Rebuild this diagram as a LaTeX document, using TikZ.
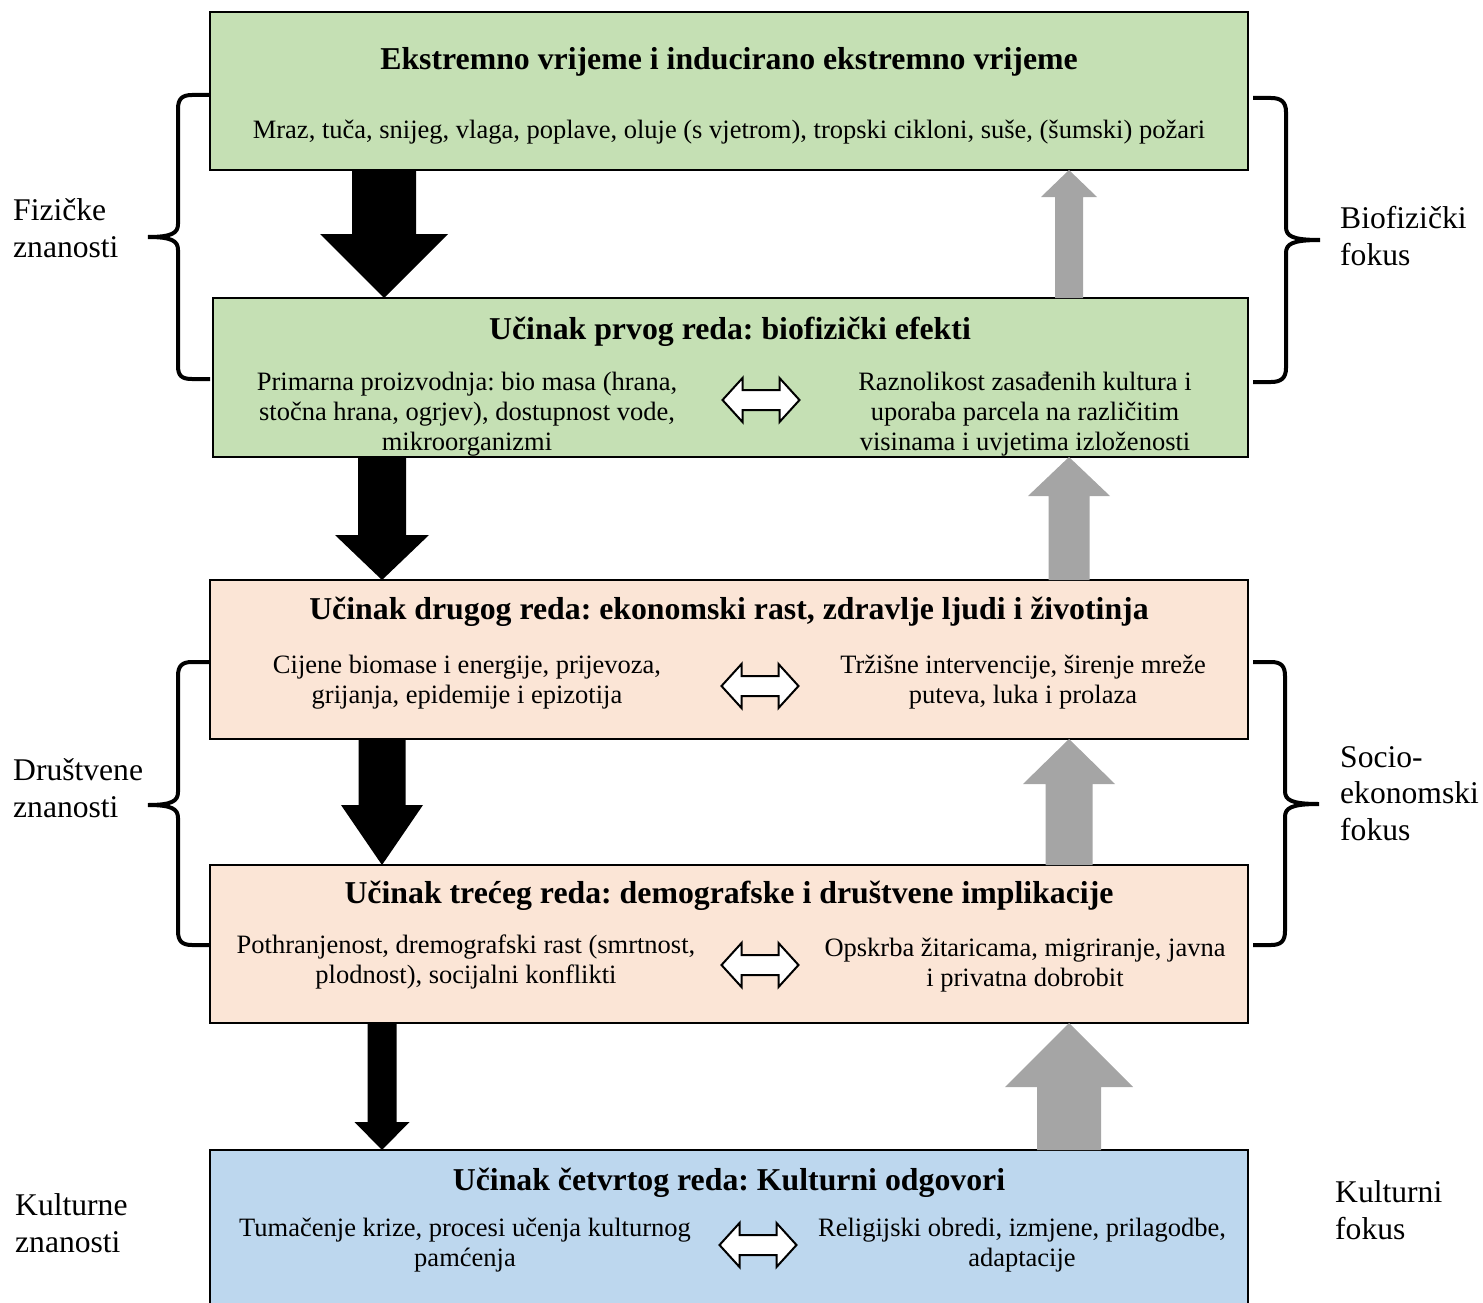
\documentclass[tikz,border=0pt]{standalone}
\usepackage{fontspec}
\setmainfont{Liberation Serif}
\usetikzlibrary{calc}
\frenchspacing
\definecolor{boxgreen}{HTML}{C5E0B4}
\definecolor{boxpeach}{HTML}{FBE5D6}
\definecolor{boxblue}{HTML}{BDD7EE}
\definecolor{arrgray}{HTML}{A5A5A5}
\tikzset{
  box/.style={draw=black, line width=2pt, rectangle, anchor=north west, inner sep=0pt, outer sep=0pt, minimum width=1038pt, minimum height=158pt},
  ttl/.style={font=\fontsize{31.8}{36}\selectfont\bfseries\frenchspacing, inner sep=0pt, anchor=base},
  body/.style={font=\fontsize{26.5}{30}\selectfont\frenchspacing, align=center, inner sep=0pt, anchor=base},
  lbl/.style={font=\fontsize{31.6}{36.5}\selectfont, align=left, inner sep=0pt, anchor=base west},
  dbl/.style={draw=black, fill=white, line width=2pt, line join=miter},
  brace/.style={draw=black, line width=4pt},
}
% down block arrow: #1 colour, #2 x, #3 from, #4 to, #5 shaft half width, #6 head half width, #7 head length
\newcommand\blkdown[7]{%
  \fill[#1] let \p1=(#3), \p2=(#4) in
    ({(#2-#5)*1pt},\y1) -- ({(#2+#5)*1pt},\y1) -- ({(#2+#5)*1pt},{\y2+#7pt}) --
    ({(#2+#6)*1pt},{\y2+#7pt}) -- ({#2*1pt},\y2) -- ({(#2-#6)*1pt},{\y2+#7pt}) --
    ({(#2-#5)*1pt},{\y2+#7pt}) -- cycle;}
\newcommand\blkup[7]{%
  \fill[#1] let \p1=(#3), \p2=(#4) in
    ({(#2-#5)*1pt},\y1) -- ({(#2+#5)*1pt},\y1) -- ({(#2+#5)*1pt},{\y2-#7pt}) --
    ({(#2+#6)*1pt},{\y2-#7pt}) -- ({#2*1pt},\y2) -- ({(#2-#6)*1pt},{\y2-#7pt}) --
    ({(#2-#5)*1pt},{\y2-#7pt}) -- cycle;}
% double-headed hollow arrow centred at (#2,#3), named #1
\newcommand\dblarr[3]{%
  \coordinate (#1) at (#2,#3);
  \draw[dbl, shift={(#1)}] (-38.5,0) -- (-18.5,-22) -- (-18.5,-10) -- (18.5,-10) -- (18.5,-22) --
    (38.5,0) -- (18.5,22) -- (18.5,10) -- (-18.5,10) -- (-18.5,22) -- cycle;}
\begin{document}
\begin{tikzpicture}[x=1pt,y=-1pt]
\useasboundingbox (0,0) rectangle (1483,1303);

% boxes
\node[box, fill=boxgreen] (b1) at (210,12) {};
\node[box, fill=boxgreen, minimum width=1035pt, minimum height=159pt] (b2) at (213,298) {};
\node[box, fill=boxpeach, minimum height=159pt] (b3) at (210,580) {};
\node[box, fill=boxpeach] (b4) at (210,865) {};
\node[box, fill=boxblue, minimum height=180pt] (b5) at (210,1150) {};

% box 1
\node[ttl] (t1) at (729,70) {Ekstremno vrijeme i inducirano ekstremno vrijeme};
\node[body] (t1b) at (729,139) {Mraz, tuča, snijeg, vlaga, poplave, oluje (s vjetrom), tropski cikloni, suše, (šumski) požari};

% box 2
\node[ttl] (t2) at (730,339) {Učinak prvog reda: biofizički efekti};
\node[body] (t2l) at (467,450) {Primarna proizvodnja: bio masa (hrana,\\stočna hrana, ogrjev), dostupnost vode,\\mikroorganizmi};
\node[body] (t2r) at (1025,450) {Raznolikost zasađenih kultura i\\uporaba parcela na različitim\\visinama i uvjetima izloženosti};
\dblarr{d2}{761}{400}

% box 3
\node[ttl] (t3) at (729,619) {Učinak drugog reda: ekonomski rast, zdravlje ljudi i životinja};
\node[body] (t3l) at (467,703) {Cijene biomase i energije, prijevoza,\\grijanja, epidemije i epizotija};
\node[body] (t3r) at (1023,703) {Tržišne intervencije, širenje mreže\\puteva, luka i prolaza};
\dblarr{d3}{760}{686}

% box 4
\node[ttl] (t4) at (729,903) {Učinak trećeg reda: demografske i društvene implikacije};
\node[body] (t4l) at (466,983) {Pothranjenost, dremografski rast (smrtnost,\\plodnost), socijalni konflikti};
\node[body] (t4r) at (1025,986) {Opskrba žitaricama, migriranje, javna\\i privatna dobrobit};
\dblarr{d4}{760}{965}

% box 5
\node[ttl] (t5) at (729,1190) {Učinak četvrtog reda: Kulturni odgovori};
\node[body] (t5l) at (465,1266) {Tumačenje krize, procesi učenja kulturnog\\pamćenja};
\node[body] (t5r) at (1022,1266) {Religijski obredi, izmjene, prilagodbe,\\adaptacije};
\dblarr{d5}{758}{1245}

% black block arrows (down)
\blkdown{black}{384}{b1.south}{b2.north}{32}{64}{64}
\blkdown{black}{382}{b2.south}{b3.north}{24}{47}{45}
\blkdown{black}{382}{b3.south}{b4.north}{23.5}{41}{60}
\blkdown{black}{382}{b4.south}{b5.north}{14.5}{27.5}{28}

% grey block arrows (up)
\blkup{arrgray}{1069}{b2.north}{b1.south}{14}{28}{27}
\blkup{arrgray}{1069}{b3.north}{b2.south}{20.5}{41}{39}
\blkup{arrgray}{1069}{b4.north}{b3.south}{23.5}{46}{45}
\blkup{arrgray}{1069}{b5.north}{b4.south}{32}{64}{64}

% braces
\draw[brace] (210,95) -- (192,95) .. controls (182,95) and (178,99) .. (178,109) -- (178,224)
  .. controls (178,233) and (172,237) .. (148,237)
  .. controls (172,237) and (178,241) .. (178,250) -- (178,366)
  .. controls (178,376) and (182,379) .. (192,379) -- (210,379);
\draw[brace] (1253,98) -- (1271,98) .. controls (1281,98) and (1286,102) .. (1286,112) -- (1286,227)
  .. controls (1286,236) and (1292,240) .. (1320,240)
  .. controls (1292,240) and (1286,244) .. (1286,253) -- (1286,368)
  .. controls (1286,378) and (1281,382) .. (1271,382) -- (1253,382);
\draw[brace] (210,662) -- (192,662) .. controls (182,662) and (178,666) .. (178,676) -- (178,792)
  .. controls (178,801) and (172,805) .. (148,805)
  .. controls (172,805) and (178,809) .. (178,818) -- (178,931)
  .. controls (178,941) and (182,945) .. (192,945) -- (210,945);
\draw[brace] (1253,662) -- (1271,662) .. controls (1281,662) and (1285,666) .. (1285,676) -- (1285,791)
  .. controls (1285,800) and (1291,804) .. (1319,804)
  .. controls (1291,804) and (1285,808) .. (1285,817) -- (1285,931)
  .. controls (1285,941) and (1281,945) .. (1271,945) -- (1253,945);

% side labels
\node[lbl] (l1) at (13,257) {Fizičke\\znanosti};
\node[lbl] (l2) at (13,817) {Društvene\\znanosti};
\node[lbl] (l3) at (15,1252) {Kulturne\\znanosti};
\node[lbl] (r1) at (1340,265) {Biofizički\\fokus};
\node[lbl] (r2) at (1340,840) {Socio-\\ekonomski\\fokus};
\node[lbl] (r3) at (1335,1239) {Kulturni\\fokus};
\end{tikzpicture}
\end{document}
